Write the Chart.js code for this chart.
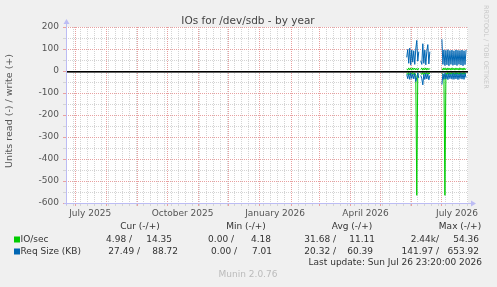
<!DOCTYPE html>
<html><head><meta charset="utf-8">
<script src="https://cdn.jsdelivr.net/npm/chart.js@4.4.1/dist/chart.umd.min.js"></script>
<style>html,body{margin:0;padding:0;background:#f0f0f0;}canvas{display:block;}</style>
</head><body>
<canvas id="c" width="497" height="287"></canvas>
<script>
// ---------- text ----------
const chartTitle = "IOs for /dev/sdb - by year";
const yAxisTitle = "Units read (-) / write (+)";
const sideText = "RRDTOOL / TOBI OETIKER";
const footerText = "Munin 2.0.76";
const lastUpdate = "Last update: Sun Jul 26 23:20:00 2026";
// ---------- axes ----------
const yMin = -600, yMax = 200, yStep = 50, yLabelStep = 100;
const xTickLabels = ["July 2025", "October 2025", "January 2026", "April 2026", "July 2026"];
const xLabelDates = [[2025, 6, 16], [2025, 9, 16], [2026, 0, 16], [2026, 3, 16], [2026, 6, 16]];
const epoch = [2025, 6, 1];               // day 0 = 1 Jul 2025
const xMinDay = -9.03, xMaxDay = 390.97;  // 400-day window ending Sun Jul 26 23:20 2026
// ---------- series (x = days since 1 Jul 2025, null = no data) ----------
const days = [330,331,332,333,334,335,336,337,338,339,340,341,342,343,
              344,345,346,347,348,349,350,351,352,353,354,
              365,366,367,368,369,370,371,372,373,374,375,376,377,378,379,380,381,382,383,384,385,386,387,388,389];
const ioRead = [-8,-16,-7,-17,-8,-15,-7,-16,-9,-20,-565,-10,-15,null,
                -9,-16,-7,-17,-8,-15,-7,-16,-8,-14,null,
                -10,-16,-20,-565,-9,-16,-7,-17,-8,-15,-7,-16,-8,-17,-7,-15,-8,-16,-7,-17,-8,-15,-7,-16,-9];
const ioWrite = [10,4,14,5,13,4,14,6,13,5,12,4,13,null,
                 6,14,4,13,5,14,4,13,6,12,null,
                 12,4,14,5,13,4,14,5,13,4,14,5,13,4,14,5,13,4,14,5,13,4,14,5,12];
const reqRead = [-15,-35,-12,-38,-10,-34,-14,-36,-12,-48,-30,-10,-32,null,
                 -20,-35,-63,-15,-38,-12,-36,-14,-40,-20,null,
                 -62,-12,-38,-10,-36,-14,-39,-11,-35,-13,-37,-10,-38,-12,-36,-11,-39,-13,-35,-10,-37,-12,-38,-11,-30];
const reqWrite = [62,98,35,104,28,95,40,92,30,100,139,45,88,null,
                  45,30,124,35,95,28,90,120,32,88,null,
                  144,30,96,25,94,28,97,24,93,30,95,26,92,28,96,25,94,30,93,27,95,24,92,29,96];
// ---------- legend ----------
const seriesNames = ["IO/sec", "Req Size (KB)"];
const seriesColors = ["#00cc00", "#0066b3"];
const legendHeaders = ["Cur (-/+)", "Min (-/+)", "Avg (-/+)", "Max (-/+)"];
const ioStats = [["4.98 /", "14.35"], ["0.00 /", "4.18"], ["31.68 /", "11.11"], ["2.44k/", "54.36"]];
const reqStats = [["27.49 /", "88.72"], ["0.00 /", "7.01"], ["20.32 /", "60.39"], ["141.97 /", "653.92"]];

// ---------- helpers ----------
const DAY = 86400000;
const epochMs = Date.UTC(epoch[0], epoch[1], epoch[2]);
const dayOf = (y, m, d) => (Date.UTC(y, m, d) - epochMs) / DAY;
const pts = arr => days.map((d, i) => ({x: d, y: arr[i]}));

function buildXTicks() {
  const t = [];
  for (let y = 2025; y <= 2026; y++) for (let m = 0; m < 12; m++) {
    const d = dayOf(y, m, 1);
    if (d >= xMinDay && d <= xMaxDay) t.push({value: d, kind: 'major'});
  }
  for (let d = dayOf(2025, 5, 22); d <= xMaxDay; d += 7) {
    if (d >= xMinDay && !t.some(o => o.kind === 'major' && Math.abs(o.value - d) < 0.5)) t.push({value: d, kind: 'minor'});
  }
  xLabelDates.forEach((a, i) => t.push({value: dayOf(a[0], a[1], a[2]), kind: 'label', text: xTickLabels[i]}));
  return t;
}

const MAJOR = '#e8a0a0', MINOR = '#d4d4d4', AXIS = '#bcbcf4';
const FONT = '"DejaVu Sans", sans-serif';

const decor = {
  id: 'decor',
  beforeDraw(chart) {
    const {ctx, chartArea: a} = chart;
    ctx.save();
    ctx.fillStyle = '#f0f0f0'; ctx.fillRect(0, 0, chart.width, chart.height);
    ctx.fillStyle = '#ffffff'; ctx.fillRect(a.left, a.top, a.right - a.left, a.bottom - a.top);
    ctx.restore();
  },
  afterDatasetsDraw(chart) {
    const {ctx, chartArea: a, scales} = chart;
    const y0 = Math.round(scales.y.getPixelForValue(0));
    ctx.save();
    ctx.fillStyle = '#000'; ctx.fillRect(a.left, y0, a.right - a.left, 1.6);
    ctx.strokeStyle = AXIS; ctx.fillStyle = AXIS; ctx.lineWidth = 1;
    ctx.beginPath(); ctx.moveTo(a.left + 0.5, a.bottom + 2); ctx.lineTo(a.left + 0.5, a.top - 4); ctx.stroke();
    ctx.beginPath(); ctx.moveTo(a.left - 2.5, a.top - 3); ctx.lineTo(a.left + 3.5, a.top - 3); ctx.lineTo(a.left + 0.5, a.top - 8); ctx.closePath(); ctx.fill();
    ctx.beginPath(); ctx.moveTo(a.left - 2, a.bottom + 0.5); ctx.lineTo(a.right + 4, a.bottom + 0.5); ctx.stroke();
    ctx.beginPath(); ctx.moveTo(a.right + 3, a.bottom - 2.5); ctx.lineTo(a.right + 3, a.bottom + 3.5); ctx.lineTo(a.right + 8, a.bottom + 0.5); ctx.closePath(); ctx.fill();
    ctx.restore();
  },
  afterDraw(chart) {
    const {ctx} = chart;
    ctx.save();
    ctx.textBaseline = 'middle';
    ctx.fillStyle = '#444'; ctx.font = '10.5px ' + FONT; ctx.textAlign = 'center';
    ctx.fillText(chartTitle, 248, 21);
    ctx.save(); ctx.translate(10, 111); ctx.rotate(-Math.PI / 2);
    ctx.fillStyle = '#555'; ctx.font = '9.5px ' + FONT; ctx.fillText(yAxisTitle, 0, 0); ctx.restore();
    ctx.save(); ctx.translate(486, 5); ctx.rotate(Math.PI / 2);
    ctx.fillStyle = '#c8c8c8'; ctx.font = '6.5px ' + FONT; ctx.textAlign = 'left'; ctx.fillText(sideText, 0, 0); ctx.restore();
    ctx.font = '9px ' + FONT; ctx.fillStyle = '#333';
    ctx.textAlign = 'center';
    [140, 246, 352, 460].forEach((x, i) => ctx.fillText(legendHeaders[i], x, 227));
    const rows = [[ioStats, 239.5, [[132,172],[234,271],[336,375],[439,479]]],
                  [reqStats, 251.5, [[140,178],[237,272],[336,373],[439,479]]]];
    rows.forEach(([stats, y, ends], r) => {
      ctx.fillStyle = seriesColors[r]; ctx.fillRect(14, y - 3, 6, 6);
      ctx.fillStyle = '#333'; ctx.textAlign = 'left'; ctx.fillText(seriesNames[r], 20.5, y);
      ctx.textAlign = 'right';
      stats.forEach((pair, i) => { ctx.fillText(pair[0], ends[i][0], y); ctx.fillText(pair[1], ends[i][1], y); });
    });
    ctx.textAlign = 'right'; ctx.fillText(lastUpdate, 482, 263);
    ctx.textAlign = 'center'; ctx.fillStyle = '#bbbbbb'; ctx.fillText(footerText, 248, 274.5);
    ctx.restore();
  }
};

const line = (label, arr, color) => ({
  label, data: pts(arr), borderColor: color, backgroundColor: color,
  borderWidth: 1, pointRadius: 0, tension: 0, spanGaps: false, fill: false
});

new Chart(document.getElementById('c'), {
  type: 'line',
  data: {
    datasets: [
      line(seriesNames[1] + ' read', reqRead, seriesColors[1]),
      line(seriesNames[1] + ' write', reqWrite, seriesColors[1]),
      line(seriesNames[0] + ' read', ioRead, seriesColors[0]),
      line(seriesNames[0] + ' write', ioWrite, seriesColors[0])
    ]
  },
  options: {
    responsive: false, animation: false, devicePixelRatio: 1,
    layout: {padding: {top: 27, right: 29, left: 0, bottom: 0}},
    plugins: {legend: {display: false}, title: {display: false}, tooltip: {enabled: false}},
    scales: {
      x: {
        type: 'linear', min: xMinDay, max: xMaxDay,
        afterBuildTicks: s => { s.ticks = buildXTicks(); },
        afterFit: s => { s.height = 84; },
        border: {display: false, dash: [1, 1]},
        grid: {
          color: c => c.tick && c.tick.kind === 'major' ? MAJOR : (c.tick && c.tick.kind === 'minor' ? MINOR : 'rgba(0,0,0,0)'),
          tickColor: c => c.tick && c.tick.kind === 'major' ? MAJOR : (c.tick && c.tick.kind === 'minor' ? MINOR : 'rgba(0,0,0,0)'),
          tickLength: 3, lineWidth: 1
        },
        ticks: {
          autoSkip: false, maxRotation: 0, minRotation: 0, padding: 2,
          color: '#555', font: {family: FONT, size: 9},
          callback: function (v, i, ticks) { return ticks[i].kind === 'label' ? ticks[i].text : ''; }
        }
      },
      y: {
        type: 'linear', min: yMin, max: yMax,
        afterFit: s => { s.width = 66; },
        border: {display: false, dash: [1, 1]},
        grid: {
          color: c => c.tick && c.tick.value % yLabelStep === 0 ? MAJOR : MINOR,
          tickColor: c => c.tick && c.tick.value % yLabelStep === 0 ? MAJOR : MINOR,
          tickLength: 3, lineWidth: 1
        },
        ticks: {
          stepSize: yStep, autoSkip: false, padding: 4,
          color: '#555', font: {family: FONT, size: 9},
          callback: v => (v % yLabelStep === 0 ? String(v) : '')
        }
      }
    }
  },
  plugins: [decor]
});
</script>
</body></html>
